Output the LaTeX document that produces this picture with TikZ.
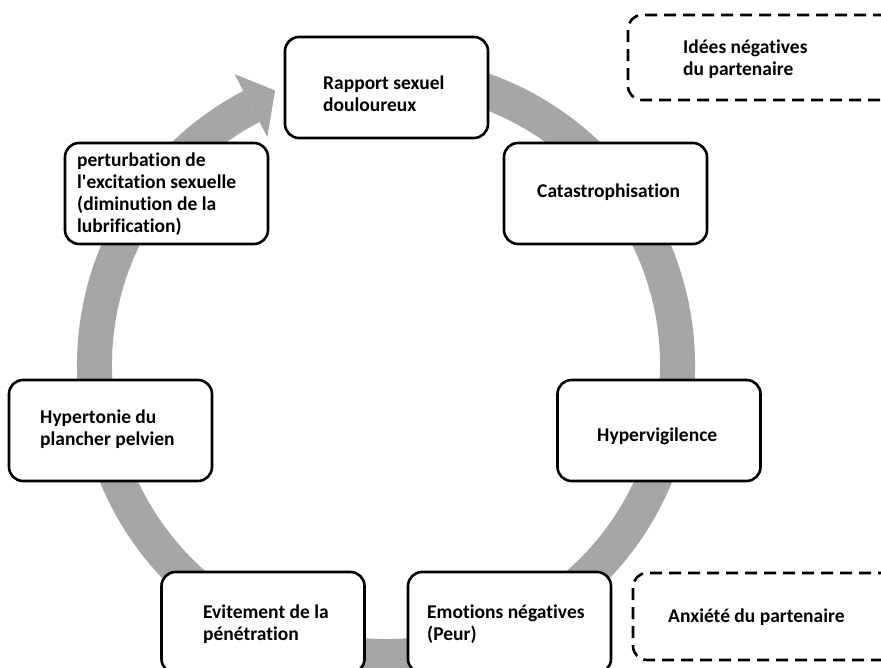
\documentclass[tikz,border=0pt]{standalone}
\usepackage{fontspec}
\newfontfamily\carl{Carlito}[Ligatures=NoCommon]
\usetikzlibrary{calc}
\definecolor{ringgray}{RGB}{166,166,166}
\begin{document}
\begin{tikzpicture}[x=1pt,y=1pt,
  box/.style={draw=black, line width=2.6pt, rounded corners=14pt, fill=white, minimum width=203pt, minimum height=101pt, inner sep=0pt},
  dbox/.style={draw=black, line width=2.6pt, rounded corners=14pt, fill=white, dash pattern=on 12pt off 7pt, inner sep=0pt},
  txt/.style={font=\carl\fontsize{19.5}{22}\selectfont\bfseries, align=left, inner sep=0pt, anchor=west}]
\useasboundingbox (0,0) rectangle (881,668);
\fill[white] (0,0) rectangle (881,668);
\coordinate (c) at (386,303);
% ring arrow
\fill[ringgray] ($(c)+(100:309)$) arc[start angle=100, end angle=-242.5, radius=309]
  -- ($(c)+(-242.5:274)$) arc[start angle=-242.5, end angle=100, radius=274] -- cycle;
\fill[ringgray] ($(c)+(-242.5:257)$) -- ($(c)+(-242.5:328)$) -- ($(c)+(-248:296)$) -- cycle;
% boxes
\node[box] (b1) at (386.5,580.5) {};
\node[box] (b2) at (605.5,474.5) {};
\node[box] (b3) at (659,237.5) {};
\node[box] (b4) at (509.5,45.5) {};
\node[box] (b5) at (263,45.5) {};
\node[box] (b6) at (110.5,237.5) {};
\node[box] (b7) at (166.5,474.5) {};
\node[dbox, minimum width=290pt, minimum height=85pt] (b8) at (773,610.5) {};
\node[dbox, minimum width=290pt, minimum height=87pt] (b9) at (778,51.5) {};
% texts
\node[txt] (t1) at (323,574) {Rapport sexuel\\douloureux};
\node[txt] (t2) at (537,476) {Catastrophisation};
\node[txt] (t3) at (597,232) {Hypervigilence};
\node[txt] (t4) at (427,44) {Emotions négatives\\(Peur)};
\node[txt] (t5) at (203,44) {Evitement de la\\pénétration};
\node[txt] (t6) at (40,238.5) {Hypertonie du\\plancher pelvien};
\node[txt] (t7) at (77,473.5) {perturbation de\\l'excitation sexuelle\\(diminution de la\\lubrification)};
\node[txt] (t8) at (683,609) {Idées négatives\\du partenaire};
\node[txt] (t9) at (668,51) {Anxiété du partenaire};
\end{tikzpicture}
\end{document}
